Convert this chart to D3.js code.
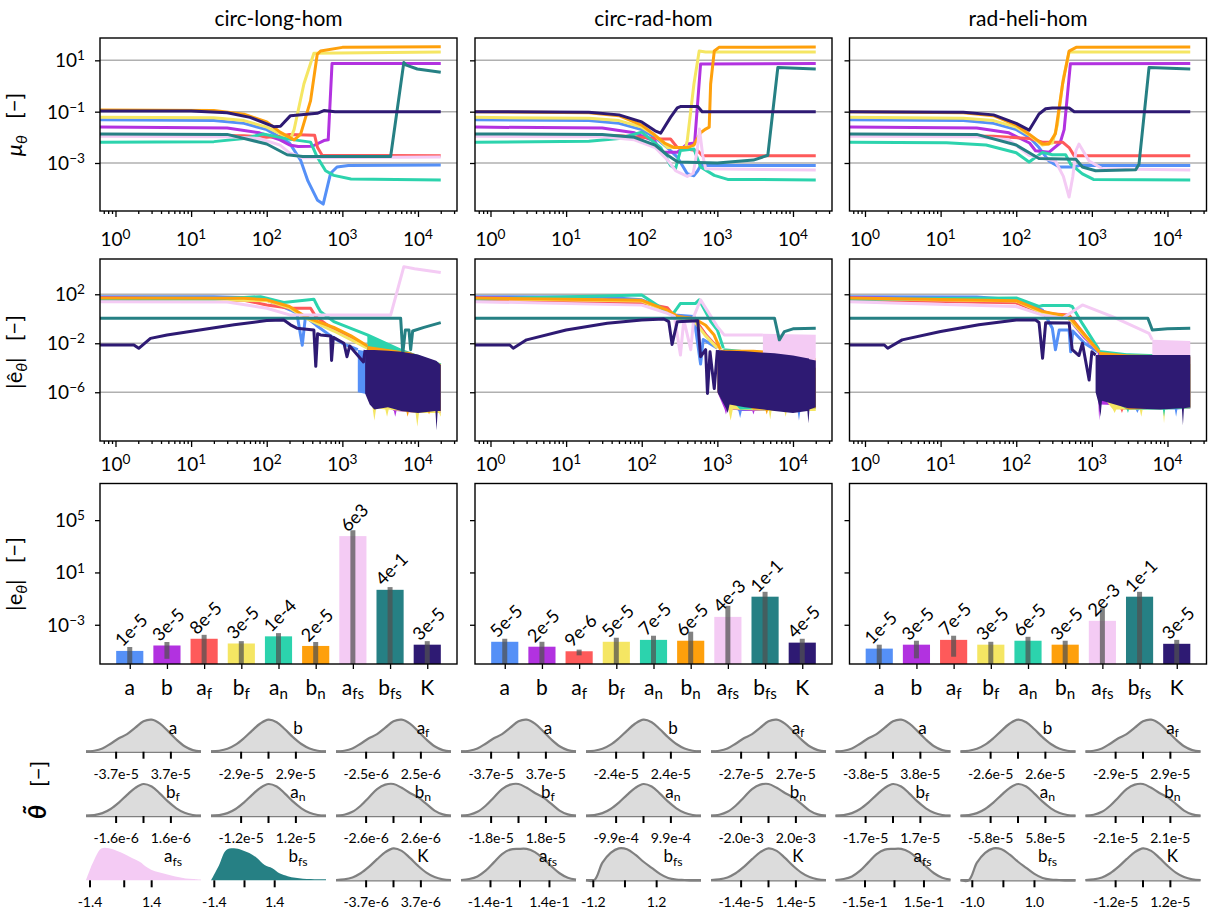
<!DOCTYPE html>
<html>
<head>
<meta charset="utf-8">
<script src="https://cdn.jsdelivr.net/npm/d3@7"></script>
<style>
  body { margin: 0; background: #fff; }
  svg { font-family: Lato, "Open Sans", sans-serif; }
</style>
</head>
<body>
<svg width="1216" height="914"></svg>
<script>
let seriesColors = ["#5590f7", "#b232e0", "#fe5a5a", "#f5e663", "#2cd3ad", "#fea00c", "#f4cbf4", "#268084", "#2e1a73"];
let catLabels = [["a", ""], ["b", ""], ["a", "f"], ["b", "f"], ["a", "n"], ["b", "n"], ["a", "fs"], ["b", "fs"], ["K", ""]];
let columnTitles = ["circ-long-hom", "circ-rad-hom", "rad-heli-hom"];

// ---- row 1: mu_theta vs iteration ----
let muLong = [
  [[0.62,0.048],[20,0.045],[50,0.035],[100,0.02],[150,0.01],[200,0.006],[280,0.0013],[350,2e-4],[470,3.5e-5],[558,2.5e-5],[700,4e-4],[850,7e-4],[1200,8e-4],[20000,8.3e-4]],
  [[0.62,0.025],[30,0.023],[80,0.015],[150,0.008],[200,0.005],[260,0.0044],[400,0.0045],[570,0.0075],[650,0.008],[730,7.5],[20000,7.6]],
  [[0.62,0.012],[50,0.0115],[100,0.01],[150,0.011],[200,0.013],[430,0.012],[470,0.004],[540,0.002],[20000,0.0019]],
  [[0.62,0.06],[20,0.058],[50,0.045],[100,0.025],[150,0.014],[206,0.0087],[230,0.02],[310,1.2],[420,19],[20000,21]],
  [[0.62,0.0065],[20,0.0068],[50,0.009],[90,0.0135],[186,0.0087],[380,0.0065],[465,0.0017],[600,5e-4],[770,3.3e-4],[1300,2.4e-4],[20000,2.2e-4]],
  [[0.62,0.115],[20,0.11],[50,0.08],[100,0.04],[150,0.016],[230,0.008],[280,0.013],[380,0.27],[465,17],[515,23],[1000,32],[20000,34]],
  [[0.62,0.011],[30,0.0105],[80,0.009],[150,0.005],[200,0.0025],[300,0.0016],[20000,0.0017]],
  [[0.62,0.0135],[30,0.013],[100,0.0055],[186,0.0021],[300,0.0018],[4350,0.0018],[6500,8.3],[7000,6.5],[9800,4.6],[20000,3.4]],
  [[0.62,0.105],[10,0.105],[30,0.09],[60,0.06],[124,0.026],[152,0.027],[206,0.07],[465,0.086],[570,0.11],[800,0.1],[20000,0.1]]
];
let muRad = [
  [[0.62,0.048],[20,0.045],[50,0.035],[100,0.02],[150,0.01],[218,0.004],[295,0.0017],[400,3.8e-4],[490,3.2e-4],[550,5e-4],[600,8e-4],[20000,8e-4]],
  [[0.62,0.025],[30,0.023],[80,0.015],[150,0.007],[178,0.0026],[295,0.0026],[400,0.0055],[500,0.006],[600,7.2],[20000,7.6]],
  [[0.62,0.012],[50,0.0115],[100,0.01],[178,0.0087],[240,0.0087],[295,0.004],[550,0.003],[640,0.0019],[20000,0.0019]],
  [[0.62,0.06],[20,0.055],[50,0.045],[100,0.025],[150,0.012],[218,0.004],[380,0.004],[400,0.0075],[490,1.2],[575,23],[700,21],[20000,21]],
  [[0.62,0.0065],[20,0.007],[50,0.009],[100,0.016],[178,0.004],[240,8e-4],[280,6e-4],[325,0.0031],[490,0.0035],[600,7e-4],[910,3.3e-4],[1370,2.3e-4],[20000,2.2e-4]],
  [[0.62,0.1],[20,0.09],[50,0.07],[100,0.03],[150,0.012],[200,0.006],[270,0.004],[400,0.004],[490,0.005],[600,0.015],[700,0.021],[780,0.025],[815,1.2],[910,23],[1050,32],[20000,33]],
  [[0.62,0.011],[30,0.0105],[80,0.008],[150,0.004],[220,0.0013],[280,5e-4],[400,3e-4],[480,4e-4],[540,0.003],[580,0.021],[640,0.002],[700,6e-4],[20000,5.3e-4]],
  [[0.62,0.0135],[30,0.013],[80,0.01],[150,0.005],[220,0.002],[300,0.0011],[1000,0.001],[3000,0.0013],[4650,0.002],[6300,5.2],[20000,4.6]],
  [[0.62,0.1],[20,0.095],[50,0.075],[100,0.04],[150,0.018],[178,0.0145],[240,0.06],[295,0.14],[330,0.16],[550,0.16],[630,0.1],[20000,0.1]]
];
let muHeli = [
  [[0.62,0.048],[20,0.045],[50,0.035],[100,0.02],[150,0.01],[200,0.004],[270,0.0012],[370,7e-4],[585,7e-4],[675,8e-4],[20000,8e-4]],
  [[0.62,0.025],[30,0.023],[80,0.015],[150,0.006],[180,0.003],[270,0.0026],[380,0.006],[430,0.02],[520,7.3],[20000,7.6]],
  [[0.62,0.012],[50,0.011],[150,0.009],[222,0.0065],[410,0.0065],[500,0.004],[585,0.0019],[20000,0.0019]],
  [[0.62,0.06],[20,0.055],[50,0.045],[100,0.025],[150,0.012],[222,0.005],[300,0.006],[350,0.03],[420,2],[500,21],[20000,21]],
  [[0.62,0.0065],[12,0.0062],[40,0.005],[100,0.0025],[148,0.0011],[222,0.0026],[300,0.0021],[450,0.0021],[525,9e-4],[750,3.8e-4],[1050,2.3e-4],[20000,2.2e-4]],
  [[0.62,0.1],[20,0.09],[50,0.07],[100,0.03],[150,0.013],[222,0.0055],[270,0.0055],[330,0.014],[410,1.2],[500,23],[620,32],[20000,33]],
  [[0.62,0.011],[30,0.0105],[80,0.008],[148,0.002],[330,0.0012],[420,3e-4],[500,4.7e-5],[560,3e-4],[615,0.003],[675,0.0055],[920,0.0012],[1380,6e-4],[20000,5.3e-4]],
  [[0.62,0.0135],[30,0.013],[100,0.005],[200,0.0015],[615,0.0014],[750,7e-4],[1120,5e-4],[3800,5.5e-4],[4200,9e-4],[5700,5.2],[20000,4.6]],
  [[0.62,0.1],[20,0.095],[50,0.075],[100,0.035],[148,0.019],[200,0.081],[245,0.13],[300,0.14],[500,0.14],[585,0.1],[20000,0.1]]
];

// ---- row 2: |e_hat| vs iteration (line part, then noisy band [x, low, high]) ----
let errLong = [
  [[0.62,64],[20,62],[60,52],[100,35],[206,5.2],[250,2.8],[295,0.007],[325,1.5],[450,0.3],[700,0.04],[1000,0.01],[1600,0.003]],
  [[0.62,55],[100,32],[200,8],[300,1.8],[470,0.5],[770,0.15],[1300,0.03],[2140,0.005]],
  [[0.62,35],[50,33],[100,13.5],[206,7.3],[380,7.3],[445,1.5],[600,0.4],[1000,0.05],[2100,0.005]],
  [[0.62,45],[100,30],[200,8],[300,1.5],[470,0.4],[770,0.1],[1300,0.02],[2140,0.004]],
  [[0.62,40],[20,42],[50,55],[83,64],[168,21],[206,25],[420,40],[470,10],[515,3.8],[770,0.59],[2140,0.048],[5900,0.0028],[20000,1.7e-4]],
  [[0.62,50],[50,48],[100,35],[200,10],[300,2],[380,1],[470,0.6],[770,0.2],[1300,0.04],[2140,0.006]],
  [[0.62,25],[30,23],[100,7.3],[206,2],[4350,2],[6500,1.8e4],[9000,1.2e4],[20000,5.9e3]],
  [[0.62,1.1],[5900,1.1],[6300,0.0015],[6800,0.12],[7600,0.12],[8000,0.003],[8500,0.1],[12000,0.2],[20000,0.48]],
  [[0.62,0.0072],[1.75,0.0072],[2.03,0.0039],[2.9,0.025],[4.8,0.048],[13,0.12],[37,0.32],[100,0.71],[168,0.8],[206,0.32],[250,0.17],[420,0.12],[445,1.3e-4],[470,0.06],[515,0.048],[700,0.04],[720,4e-4],[760,0.03],[1050,0.01],[1150,8e-4],[1250,0.006],[1900,3e-4],[2000,0.0028]]
];
let bandLong = [
  [[1600,1e-6,0.003],[20000,4e-8,1.5e-4]],
  [[2140,1e-6,0.002],[4800,3e-8,0.002],[5000,1e-8,0.002],[5200,3e-8,0.002],[9500,2e-8,0.001],[9800,4e-9,0.001],[10100,2e-8,0.001],[20000,2e-8,1.5e-4]],
  [[2100,1e-6,0.005],[20000,4e-8,1.5e-4]],
  [[2140,1e-6,0.002],[2500,6e-8,0.002],[2650,5e-9,0.002],[2800,5e-8,0.002],[3700,4e-8,0.002],[3900,1e-8,0.002],[4100,4e-8,0.002],[9300,2e-8,0.001],[9800,1.5e-9,0.001],[10300,2e-8,0.001],[19000,2e-8,2e-4],[20000,1e-8,1.5e-4]],
  [[2140,1e-6,0.048],[5900,4e-8,0.0028],[20000,5e-8,1.7e-4]],
  [[2140,1e-6,0.006],[7000,3e-8,0.002],[7300,1e-8,0.002],[7600,3e-8,0.002],[13500,3e-8,5e-4],[14000,1.5e-8,5e-4],[14500,3e-8,5e-4],[20000,3e-8,2e-4]],
  [],
  [],
  [[2000,8e-7,0.0028],[2300,1e-7,0.0028],[2650,4e-8,0.0028],[4000,6e-8,0.0025],[6000,3e-8,0.002],[10000,2e-8,0.0012],[17000,3e-8,4e-4],[17600,8e-10,3.5e-4],[18200,3e-8,3e-4],[20000,3e-8,1.7e-4]]
];
let errRad = [
  [[0.62,64],[30,60],[100,35],[218,5.2],[270,2],[490,1.5],[600,2e-4],[650,0.02],[1000,0.004]],
  [[0.62,55],[100,30],[218,4],[300,1.5],[500,0.8],[700,0.05],[1000,0.004]],
  [[0.62,35],[100,20],[218,8],[270,1.6],[500,1],[700,0.05],[1000,0.005]],
  [[0.62,45],[100,28],[218,4],[300,1.2],[500,0.6],[700,0.04],[1000,0.004]],
  [[0.62,40],[100,89],[252,2],[325,18],[515,18],[575,35],[820,0.59],[1000,0.12],[1200,0.004]],
  [[0.62,50],[100,32],[218,5],[300,1.5],[500,1],[700,0.3],[900,0.05],[1100,0.003]],
  [[0.62,25],[100,13],[218,2.8],[270,1.6],[325,0.0011],[360,0.8],[445,0.003],[490,1.6],[600,35],[1000,0.23],[1230,0.048],[4000,0.048]],
  [[0.62,1.1],[5700,1.1],[6600,0.019],[7700,0.09],[10000,0.15],[20000,0.17]],
  [[0.62,0.0072],[1.8,0.0072],[2,0.0039],[3,0.019],[10,0.12],[35,0.43],[100,0.8],[196,0.95],[228,0.58],[252,0.008],[295,0.58],[550,0.7],[600,8e-4],[700,0.003],[740,8e-7],[800,0.002],[910,2e-6],[1000,0.0028]]
];
let bandRad = [
  [[1000,1e-6,0.002],[1900,3e-8,0.002],[2000,8e-9,0.002],[2100,3e-8,0.002],[11500,3e-8,8e-4],[12000,5e-9,8e-4],[12500,3e-8,8e-4],[20000,5e-8,4e-4]],
  [[1000,1e-6,0.002],[1250,4e-8,0.002],[1300,1.5e-8,0.002],[1350,4e-8,0.002],[2900,3e-8,0.0015],[3000,1.5e-8,0.0015],[3100,3e-8,0.0015],[20000,5e-8,4e-4]],
  [[1000,1e-6,0.002],[20000,5e-8,4e-4]],
  [[1000,1e-6,0.002],[1400,4e-8,0.002],[1500,5e-9,0.002],[1600,4e-8,0.002],[4800,3e-8,0.0015],[5000,6e-9,0.0015],[5200,3e-8,0.0015],[7700,3e-8,0.001],[8000,1e-8,0.001],[8300,3e-8,0.001],[20000,3e-8,4e-4]],
  [[1200,1e-6,0.004],[2000,4e-8,0.003],[20000,5e-8,3e-4]],
  [[1100,1e-6,0.003],[3000,4e-8,0.003],[4300,4e-8,0.0025],[4500,1.5e-8,0.0025],[4700,4e-8,0.0025],[20000,5e-8,6e-4]],
  [[4000,1e-4,0.06],[20000,1e-4,0.05]],
  [],
  [[1000,1e-6,0.0028],[1300,5e-8,0.0025],[1370,2e-8,0.0025],[1450,1e-7,0.0025],[2300,6e-8,0.0022],[5700,3e-8,0.0015],[10000,2e-8,0.001],[15500,3e-8,6e-4],[16000,3e-9,6e-4],[16500,4e-8,5e-4],[20000,6e-8,4e-4]]
];
let errHeli = [
  [[0.62,64],[30,60],[100,35],[223,5],[300,0.17],[330,0.003],[370,0.12],[500,0.12],[525,0.002],[560,0.1],[800,0.01],[1200,0.002]],
  [[0.62,55],[100,30],[223,4],[400,1.5],[500,1],[800,0.03],[1250,0.002]],
  [[0.62,35],[100,20],[223,2.8],[500,2],[800,0.05],[1250,0.002]],
  [[0.62,45],[100,28],[223,3],[500,1],[800,0.04],[1250,0.002]],
  [[0.62,40],[100,50],[200,10],[223,12],[500,12],[550,10],[750,0.4],[1250,0.0028]],
  [[0.62,50],[100,30],[223,4],[500,1.5],[800,0.05],[1250,0.002]],
  [[0.62,25],[100,10],[223,2],[410,1.1],[750,13.5],[1870,1.5],[5700,0.064],[6300,0.019]],
  [[0.62,1.1],[5500,1.1],[6300,0.12],[10000,0.15],[20000,0.17]],
  [[0.62,0.0072],[1.8,0.0072],[2,0.0039],[3.1,0.019],[10,0.09],[32,0.32],[100,0.8],[180,0.8],[200,0.5],[223,6e-4],[245,0.48],[500,0.45],[550,0.003],[675,0.001],[750,0.01],[920,1e-5],[1000,0.002],[1120,0.0011]]
];
let bandHeli = [
  [[1200,1e-6,0.002],[3800,4e-8,0.001],[4000,2e-8,0.001],[4200,4e-8,0.001],[12500,4e-8,0.001],[13000,1e-8,0.001],[13500,4e-8,0.001],[20000,5e-8,8e-4]],
  [[1200,1e-6,0.002],[1250,5e-9,0.002],[1300,1e-7,0.001],[20000,5e-8,8e-4]],
  [[1250,1e-6,0.002],[2400,4e-8,0.001],[2500,2e-8,0.001],[2600,4e-8,0.001],[20000,5e-8,8e-4]],
  [[1250,1e-6,0.002],[1900,4e-8,0.001],[2000,2e-8,0.001],[2100,4e-8,0.001],[4300,4e-8,0.001],[4500,1e-8,0.001],[4700,4e-8,0.001],[8700,4e-8,0.001],[9000,3e-9,0.001],[9300,4e-8,0.001],[20000,5e-8,8e-4]],
  [[1250,1e-6,0.0028],[2900,4e-8,0.0015],[3000,2e-8,0.0015],[3100,4e-8,0.0015],[8700,4e-8,0.0012],[9000,1e-8,0.0012],[9300,4e-8,0.0012],[20000,5e-8,0.001]],
  [[1250,1e-6,0.002],[3000,4e-8,0.0012],[20000,6e-8,0.001]],
  [[6300,2e-4,0.019],[20000,2e-4,0.015]],
  [],
  [[1120,1e-6,0.0011],[1250,8e-8,0.0011],[1300,1e-8,0.0011],[1360,2e-7,0.0011],[3000,5e-8,0.0011],[8000,4e-8,0.0011],[15500,5e-8,0.0011],[16000,2e-9,0.0011],[16500,5e-8,0.0011],[20000,6e-8,0.0011]]
];

// ---- row 3: final |e_theta| bars with error range ----
let barLong = [1e-5, 2.6e-5, 8.5e-5, 3.7e-5, 1.3e-4, 2.4e-5, 6e3, 0.47, 3e-5];
let barTextLong = ["1e-5", "3e-5", "8e-5", "3e-5", "1e-4", "2e-5", "6e3", "4e-1", "3e-5"];
let errHiLong = [2e-5, 4.8e-5, 1.7e-4, 5.6e-5, 2.3e-4, 4.8e-5, 1.7e4, 0.76, 5.6e-5];
let errLoLong = [1e-7, 2.5e-6, 1e-7, 1e-7, 1e-7, 1e-7, 1e-7, 1e-7, 1e-7];
let barRad = [5e-5, 2.1e-5, 9.4e-6, 5e-5, 7e-5, 6e-5, 4e-3, 0.14, 4.3e-5];
let barTextRad = ["5e-5", "2e-5", "9e-6", "5e-5", "7e-5", "6e-5", "4e-3", "1e-1", "4e-5"];
let errHiRad = [8.5e-5, 5e-5, 1.26e-5, 1.02e-4, 1.45e-4, 2.95e-4, 0.028, 0.33, 8.5e-5];
let errLoRad = [1e-7, 1e-7, 4.6e-6, 1e-7, 1e-7, 1e-7, 1e-7, 1e-7, 1e-7];
let barHeli = [1.5e-5, 3e-5, 7e-5, 3e-5, 6e-5, 3e-5, 2e-3, 0.14, 3.5e-5];
let barTextHeli = ["1e-5", "3e-5", "7e-5", "3e-5", "6e-5", "3e-5", "2e-3", "1e-1", "3e-5"];
let errHiHeli = [3e-5, 6e-5, 1.45e-4, 5e-5, 1.2e-4, 6e-5, 0.02, 0.33, 7e-5];
let errLoHeli = [1e-7, 2.7e-6, 3.6e-6, 1e-7, 1e-7, 1e-7, 1e-7, 1e-7, 1e-7];

// ---- row 4: posterior densities (heights sampled evenly over each domain, in tick units) ----
let shapeSym = [0.01,0.03,0.09,0.22,0.42,0.66,0.88,1.0,0.92,0.7,0.45,0.24,0.1,0.03,0.01];
let shapeLsh = [0.01,0.03,0.1,0.25,0.42,0.55,0.75,0.95,1.0,0.88,0.64,0.38,0.17,0.05,0.01];
let shapeRsh = [0.01,0.04,0.13,0.32,0.58,0.84,0.98,1.0,0.88,0.72,0.58,0.38,0.17,0.05,0.01];
let shapeFlat = [0.01,0.04,0.12,0.3,0.56,0.82,0.96,0.98,0.98,0.88,0.68,0.44,0.22,0.08,0.02];
let shapeSkew = [0.0,0.0,0.55,0.86,1.0,0.97,0.8,0.58,0.39,0.2,0.07,0.02,0.01,0.0,0.0];
let shapeAfsPink = [0,0.6,0.99,1.0,0.92,0.82,0.7,0.58,0.4,0.28,0.22,0.16,0.1,0.06,0.04,0.02];
let shapeBfsTeal = [0,0.45,0.95,1.0,0.95,0.85,0.7,0.48,0.38,0.21,0.13,0.08,0.05,0.04,0.03,0.03];

let densTickLong = ["3.7e-5", "2.9e-5", "2.5e-6", "1.6e-6", "1.2e-5", "2.6e-6", "1.4", "1.4", "3.7e-6"];
let densTickRad = ["3.7e-5", "2.4e-5", "2.7e-5", "1.8e-5", "9.9e-4", "2.0e-3", "1.4e-1", "1.2", "1.4e-5"];
let densTickHeli = ["3.8e-5", "2.6e-5", "2.9e-5", "1.7e-5", "5.8e-5", "2.1e-5", "1.5e-1", "1.0", "1.2e-5"];
let densShapeLong = [shapeLsh, shapeSym, shapeLsh, shapeSym, shapeSym, shapeRsh, shapeAfsPink, shapeBfsTeal, shapeSym];
let densShapeRad = [shapeLsh, shapeSym, shapeLsh, shapeRsh, shapeSym, shapeRsh, shapeFlat, shapeSkew, shapeSym];
let densShapeHeli = [shapeLsh, shapeSym, shapeLsh, shapeSym, shapeSym, shapeRsh, shapeFlat, shapeSkew, shapeSym];
let densDomainLong = [[-2.1,2.1],[-2.1,2.1],[-2.1,2.1],[-2.1,2.1],[-2.1,2.1],[-2.1,2.1],[-1.13,2.6],[-1.11,2.7],[-2.1,2.1]];
let densDomainRad = [[-2.1,2.1],[-2.1,2.1],[-2.1,2.1],[-2.1,2.1],[-2.1,2.1],[-2.1,2.1],[-2.0,1.9],[-1.23,2.4],[-2.1,2.1]];
let densDomainHeli = [[-2.1,2.1],[-2.1,2.1],[-2.1,2.1],[-2.1,2.1],[-2.1,2.1],[-2.1,2.1],[-2.0,1.9],[-1.38,2.32],[-2.1,2.1]];
let densMidLong = [0, 0, 0, 0, 0, 0, 0.11, 0, 0];
let densMidRad = [0, 0, 0, 0, 0, 0, 0, 0, 0];
let densMidHeli = [0, 0, 0, 0, 0, 0, 0, 0, 0];
let densHighlightLong = [0, 0, 0, 0, 0, 0, 1, 1, 0];
let densHighlightRad = [0, 0, 0, 0, 0, 0, 0, 0, 0];
let densHighlightHeli = [0, 0, 0, 0, 0, 0, 0, 0, 0];

let columns = [
  { title: columnTitles[0], mu: muLong, err: errLong, band: bandLong, bar: barLong, barText: barTextLong, hi: errHiLong, lo: errLoLong,
    dTick: densTickLong, dShape: densShapeLong, dDomain: densDomainLong, dMid: densMidLong, dHi: densHighlightLong },
  { title: columnTitles[1], mu: muRad, err: errRad, band: bandRad, bar: barRad, barText: barTextRad, hi: errHiRad, lo: errLoRad,
    dTick: densTickRad, dShape: densShapeRad, dDomain: densDomainRad, dMid: densMidRad, dHi: densHighlightRad },
  { title: columnTitles[2], mu: muHeli, err: errHeli, band: bandHeli, bar: barHeli, barText: barTextHeli, hi: errHiHeli, lo: errLoHeli,
    dTick: densTickHeli, dShape: densShapeHeli, dDomain: densDomainHeli, dMid: densMidHeli, dHi: densHighlightHeli }
];

// ---- layout ----
let svg = d3.select("svg");
let colLeft = [100, 475, 849.5];
let panelW = 357;
let rowTop = [38, 259, 483.5];
let rowH = [173, 182, 180.5];
let densBase = [751.7, 816, 880.3];
let barWidth = 0.73;
let tickFont = 19;

let xIter = d3.scaleLog().domain([0.624, 32800]).range([0, panelW]);
let yMu = d3.scaleLog().domain([Math.pow(10, -4.87), Math.pow(10, 1.87)]).range([rowH[0], 0]);
let yErr = d3.scaleLog().domain([Math.pow(10, -9.98), Math.pow(10, 4.88)]).range([rowH[1], 0]);
let yBar = d3.scaleLog().domain([1e-6, Math.pow(10, 7.8)]).range([rowH[2], 0]);
let xBar = d3.scaleLinear().domain([-0.8, 8.8]).range([0, panelW]);

function powLabel(t, exp) {
  t.append("tspan").text("10");
  t.append("tspan")
    .attr("dy", "-0.5em")
    .attr("font-size", "0.72em")
    .text(exp < 0 ? "\u2212" + -exp : exp);
}

function subLabel(t, base, sub) {
  t.append("tspan").text(base);
  if (sub) t.append("tspan").attr("dy", "0.28em").attr("font-size", "0.72em").text(sub);
}

function styleAxis(a) {
  a.select(".domain").remove();
  a.selectAll(".tick line").style("stroke", "#000").style("stroke-width", 1.3);
}

function frame(g, h) {
  g.append("rect")
    .attr("width", panelW)
    .attr("height", h)
    .style("fill", "none")
    .style("stroke", "#000")
    .style("stroke-width", 1.4);
}

function linePanel(c, r, yScale, yMajors, yExps, lines, bands, labelDy) {
  let h = rowH[r];
  let g = svg.append("g").attr("transform", `translate(${colLeft[c]},${rowTop[r]})`);
  let clipId = `clip-${c}-${r}`;
  g.append("clipPath").attr("id", clipId).append("rect").attr("width", panelW).attr("height", h);

  g.selectAll("line.grid")
    .data(yMajors)
    .enter()
    .append("line")
    .attr("x1", 0)
    .attr("x2", panelW)
    .attr("y1", d => yScale(d))
    .attr("y2", d => yScale(d))
    .style("stroke", "#b0b0b0")
    .style("stroke-width", 1.5);

  let plot = g.append("g").attr("clip-path", `url(#${clipId})`);
  let line = d3.line().x(d => xIter(d[0])).y(d => yScale(d[1]));
  let area = d3
    .area()
    .x(d => xIter(d[0]))
    .y0(d => yScale(d[1]))
    .y1(d => yScale(d[2]));

  lines.forEach((pts, i) => {
    if (bands && bands[i].length) {
      plot.append("path").attr("d", area(bands[i])).style("fill", seriesColors[i]);
    }
    plot
      .append("path")
      .attr("d", line(pts))
      .style("fill", "none")
      .style("stroke", seriesColors[i])
      .style("stroke-width", 3)
      .style("stroke-linejoin", "round");
  });

  let majors = [1, 10, 100, 1000, 10000];
  let minors = xIter.ticks().filter(v => Math.abs(Math.log10(v) - Math.round(Math.log10(v))) > 1e-6);
  g.append("g")
    .attr("transform", `translate(0,${h})`)
    .call(d3.axisBottom(xIter).tickValues(minors).tickSize(3).tickFormat(""))
    .call(styleAxis);
  g.append("g")
    .attr("transform", `translate(0,${h})`)
    .call(d3.axisBottom(xIter).tickValues(majors).tickSize(6).tickFormat(""))
    .call(styleAxis);
  majors.forEach(v => {
    let t = g
      .append("text")
      .attr("x", xIter(v))
      .attr("y", h + labelDy)
      .attr("text-anchor", "middle")
      .attr("font-size", tickFont);
    powLabel(t, Math.round(Math.log10(v)));
  });

  g.append("g")
    .call(d3.axisLeft(yScale).tickValues(yMajors).tickSize(5).tickFormat(""))
    .call(styleAxis);
  if (c === 0) {
    yMajors.forEach((v, i) => {
      let t = g
        .append("text")
        .attr("x", -15)
        .attr("y", yScale(v) + 7)
        .attr("text-anchor", "end")
        .attr("font-size", tickFont);
      powLabel(t, yExps[i]);
    });
  }
  frame(g, h);
}

function barPanel(c, col) {
  let h = rowH[2];
  let g = svg.append("g").attr("transform", `translate(${colLeft[c]},${rowTop[2]})`);

  g.selectAll("rect.bar")
    .data(col.bar)
    .enter()
    .append("rect")
    .attr("x", (d, i) => xBar(i - barWidth / 2))
    .attr("width", xBar(barWidth) - xBar(0))
    .attr("y", d => yBar(d))
    .attr("height", d => h - yBar(d))
    .style("fill", (d, i) => seriesColors[i]);

  g.selectAll("line.err")
    .data(col.bar)
    .enter()
    .append("line")
    .attr("x1", (d, i) => xBar(i))
    .attr("x2", (d, i) => xBar(i))
    .attr("y1", (d, i) => Math.min(h, yBar(col.lo[i])))
    .attr("y2", (d, i) => yBar(col.hi[i]))
    .style("stroke", "#505050")
    .style("stroke-width", 5)
    .style("stroke-opacity", 0.72);

  col.bar.forEach((v, i) => {
    let lab = g
      .append("text")
      .attr("font-size", 18)
      .attr("text-anchor", "middle")
      .attr("dominant-baseline", "central")
      .text(col.barText[i]);
    let w = lab.node().getComputedTextLength();
    let half = (w + 12) / (2 * Math.SQRT2);
    lab.attr("transform", `translate(${xBar(i) + 1},${yBar(v) - 4 - half}) rotate(-45)`);
  });

  g.append("g")
    .attr("transform", `translate(0,${h})`)
    .call(d3.axisBottom(xBar).tickValues(d3.range(9)).tickSize(5).tickFormat(""))
    .call(styleAxis);
  catLabels.forEach((cl, i) => {
    let t = g
      .append("text")
      .attr("x", xBar(i))
      .attr("y", h + 31)
      .attr("text-anchor", "middle")
      .attr("font-size", 21);
    subLabel(t, cl[0], cl[1]);
  });

  let yMajors = [1e5, 10, 1e-3];
  let yExps = [5, 1, -3];
  g.append("g")
    .call(d3.axisLeft(yBar).tickValues(yMajors).tickSize(5).tickFormat(""))
    .call(styleAxis);
  if (c === 0) {
    yMajors.forEach((v, i) => {
      let t = g
        .append("text")
        .attr("x", -15)
        .attr("y", yBar(v) + 7)
        .attr("text-anchor", "end")
        .attr("font-size", tickFont);
      powLabel(t, yExps[i]);
    });
  }
  frame(g, h);
}

function densityGrid(c, col) {
  for (let k = 0; k < 9; k++) {
    let r = Math.floor(k / 3);
    let j = k % 3;
    let left = colLeft[c] - 14 + j * 125;
    let base = densBase[r];
    let dom = col.dDomain[k];
    let shape = col.dShape[k];
    let x = d3.scaleLinear().domain(dom).range([left, left + 115]);
    let y = d3.scaleLinear().domain([0, 1]).range([base, base - 32]);
    let pts = shape.map((v, i) => [dom[0] + (i * (dom[1] - dom[0])) / (shape.length - 1), v]);
    let g = svg.append("g");
    let highlight = col.dHi[k];

    if (!highlight) {
      g.append("line")
        .attr("x1", left)
        .attr("x2", left + 115)
        .attr("y1", base)
        .attr("y2", base)
        .style("stroke", "#808080")
        .style("stroke-width", 2.5);
    }
    g.append("path")
      .attr("d", d3.area().x(d => x(d[0])).y0(base).y1(d => y(d[1])).curve(d3.curveCatmullRom)(pts))
      .style("fill", highlight ? seriesColors[k] : "#dcdcdc");
    if (!highlight) {
      g.append("path")
        .attr("d", d3.line().x(d => x(d[0])).y(d => y(d[1])).curve(d3.curveCatmullRom)(pts))
        .style("fill", "none")
        .style("stroke", "#808080")
        .style("stroke-width", 2.2);
    }

    [-1, col.dMid[k], 1].forEach(t => {
      g.append("line")
        .attr("x1", x(t))
        .attr("x2", x(t))
        .attr("y1", base)
        .attr("y2", base + 7)
        .style("stroke", "#000")
        .style("stroke-width", 2);
    });
    [-1, 1].forEach(t => {
      g.append("text")
        .attr("x", x(t))
        .attr("y", base + 27)
        .attr("text-anchor", "middle")
        .attr("font-size", 14)
        .text((t < 0 ? "-" : "") + col.dTick[k]);
    });
    let name = g
      .append("text")
      .attr("x", left + 87)
      .attr("y", base - 18)
      .attr("text-anchor", "middle")
      .attr("font-size", 17);
    subLabel(name, catLabels[k][0], catLabels[k][1]);
  }
}

columns.forEach((col, c) => {
  svg.append("text")
    .attr("x", colLeft[c] + panelW / 2)
    .attr("y", 26)
    .attr("text-anchor", "middle")
    .attr("font-size", 21)
    .text(col.title);
  linePanel(c, 0, yMu, [10, 0.1, 0.001], [1, -1, -3], col.mu, null, 35);
  linePanel(c, 1, yErr, [100, 0.01, 1e-6], [2, -2, -6], col.err, col.band, 30);
  barPanel(c, col);
  densityGrid(c, col);
});

// ---- y axis titles ----
function yTitle(x, y, size, build) {
  let t = svg
    .append("text")
    .attr("transform", `translate(${x},${y}) rotate(-90)`)
    .attr("text-anchor", "middle")
    .attr("font-size", size);
  build(t);
}

yTitle(22, 124.5, 22, t => {
  t.append("tspan").attr("font-style", "italic").text("\u03bc");
  t.append("tspan").attr("font-style", "italic").attr("font-size", "0.72em").attr("dy", "0.3em").text("\u03b8");
  t.append("tspan").attr("dx", 16).attr("dy", "-0.22em").text("[\u2212]");
});
yTitle(22, 352, 22, t => {
  t.append("tspan").text("|\u00ea");
  t.append("tspan").attr("font-style", "italic").attr("font-size", "0.72em").attr("dy", "0.3em").text("\u03b8");
  t.append("tspan").attr("dy", "-0.22em").text("|");
  t.append("tspan").attr("dx", 16).text("[\u2212]");
});
yTitle(22, 574, 22, t => {
  t.append("tspan").text("|e");
  t.append("tspan").attr("font-style", "italic").attr("font-size", "0.72em").attr("dy", "0.3em").text("\u03b8");
  t.append("tspan").attr("dy", "-0.22em").text("|");
  t.append("tspan").attr("dx", 16).text("[\u2212]");
});
yTitle(46, 790, 22, t => {
  t.append("tspan").attr("font-style", "italic").attr("font-weight", "bold").attr("font-size", "1.15em").text("\u03b8\u0303");
  t.append("tspan").attr("dx", 18).text("[\u2212]");
});
</script>
</body>
</html>
